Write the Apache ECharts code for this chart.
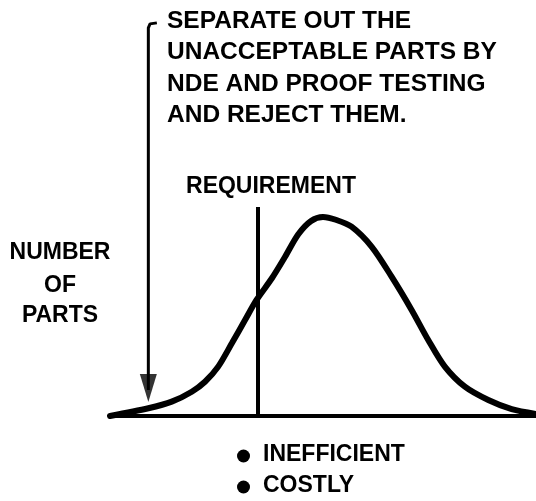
<!DOCTYPE html>
<html>
<head>
<meta charset="utf-8">
<script src="https://cdn.jsdelivr.net/npm/echarts@6/dist/echarts.min.js"></script>
<style>html,body{margin:0;padding:0;background:#fff}#c{width:536px;height:501px}</style>
</head>
<body>
<div id="c"></div>
<script>
// Distribution of parts (relative property value vs. relative number of parts)
const perfX = [0, 9.0, 14.5, 19.2, 22.3, 25.4, 28.6, 31.7, 34.4, 38.0, 41.1, 44.2, 47.2, 50.0, 53.0, 56.7, 61.4, 66.1, 70.8, 74.7, 78.6, 83.3, 88.8, 94.3, 100];
const partCount = [0, 3.9, 7.2, 12.2, 17.2, 24.8, 36.5, 48.2, 58.3, 69.2, 80.0, 91.3, 98.0, 100, 98.6, 95.1, 85.1, 70.0, 53.3, 38.2, 24.8, 14.7, 8.0, 3.4, 1.0];
const requirementX = 34.7;
const requirementTop = 105;
// bracket + arrow annotation path (in chart values)
const bracketX = [11.0, 9.4, 9.0, 9.0];
const bracketY = [197.5, 197.0, 195.0, 13.0];
const arrowHead = [9.0, 14.1];
const noteLines = ['SEPARATE OUT THE', 'UNACCEPTABLE PARTS BY', 'NDE AND PROOF TESTING', 'AND REJECT THEM.'];
const yLabelLines = ['NUMBER', 'OF', 'PARTS'];
const consequenceLines = ['INEFFICIENT', 'COSTLY'];
const requirementLabel = 'REQUIREMENT';

const FONT_BIG = 'bold 24.5px "Liberation Sans", Arial, sans-serif';
const FONT = 'bold 23px "Liberation Sans", Arial, sans-serif';
const chart = echarts.init(document.getElementById('c'), null, {renderer: 'canvas'});

const graphics = [];
const noteY = [21, 52.5, 84, 115.5];
noteLines.forEach((t, i) => graphics.push({type: 'text', x: 167, y: noteY[i],
  style: {text: t, font: FONT_BIG, fill: '#000', textVerticalAlign: 'middle', textAlign: 'left'}}));
const ylY = [252.5, 286, 316];
yLabelLines.forEach((t, i) => graphics.push({type: 'text', x: 60, y: ylY[i],
  style: {text: t, font: FONT, fill: '#000', textVerticalAlign: 'middle', textAlign: 'center'}}));
graphics.push({type: 'text', x: 271, y: 187,
  style: {text: requirementLabel, font: FONT, fill: '#000', textVerticalAlign: 'middle', textAlign: 'center'}});
const cY = [455, 486];
consequenceLines.forEach((t, i) => {
  graphics.push({type: 'circle', shape: {cx: 243.5, cy: cY[i] + 1, r: 6.5}, style: {fill: '#000'}});
  graphics.push({type: 'text', x: 263, y: cY[i],
    style: {text: t, font: FONT, fill: '#000', textVerticalAlign: 'middle', textAlign: 'left'}});
});

chart.setOption({
  animation: false,
  backgroundColor: '#fff',
  grid: {left: 110, right: 0, top: 207, bottom: 85},
  xAxis: {type: 'value', min: 0, max: 100,
    axisLine: {show: true, onZero: false, lineStyle: {color: '#000', width: 4}},
    axisTick: {show: false}, axisLabel: {show: false}, splitLine: {show: false}},
  yAxis: {type: 'value', min: 0, max: 105, show: false, splitLine: {show: false}},
  graphic: graphics,
  series: [
    {type: 'line', data: perfX.map((x, i) => [x, partCount[i]]), smooth: 0.3, showSymbol: false,
      lineStyle: {color: '#000', width: 6, cap: 'round'}, z: 3,
      markLine: {silent: true, symbol: ['none', 'none'], label: {show: false},
        lineStyle: {color: '#000', width: 4, type: 'solid'},
        data: [[{coord: [requirementX, 0]}, {coord: [requirementX, requirementTop]}]]}},
    {type: 'line', data: bracketX.map((x, i) => [x, bracketY[i]]), clip: false, showSymbol: false,
      lineStyle: {color: '#000', width: 3}, z: 2},
    {type: 'scatter', data: [arrowHead], clip: false, symbol: 'triangle', symbolRotate: 180,
      symbolSize: [17, 28], itemStyle: {color: '#000'}, z: 2, silent: true}
  ]
});
</script>
</body>
</html>
